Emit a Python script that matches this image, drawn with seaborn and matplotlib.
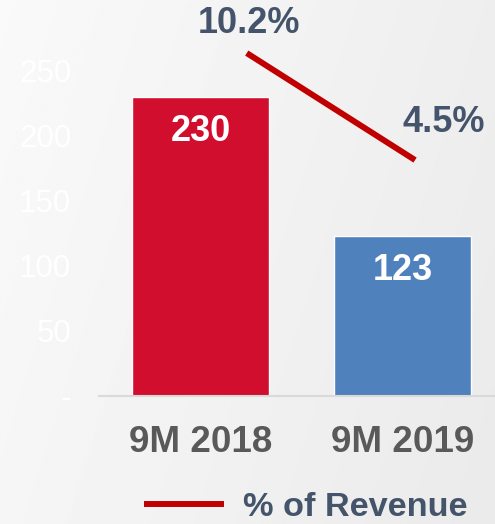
import numpy as np
import matplotlib
matplotlib.use('Agg')
import matplotlib.pyplot as plt
import seaborn as sns

# 數據
periods = ['9M 2018', '9M 2019']
amounts = [230, 123]
pct_revenue = [10.2, 4.5]
pct_labels = ['10.2%', '4.5%']
y_ticks = [0, 50, 100, 150, 200, 250]
y_tick_labels = ['-', '50', '100', '150', '200', '250']

sns.set_style('white')
plt.rcParams['font.family'] = ['Liberation Sans', 'DejaVu Sans']

fig = plt.figure(figsize=(4.95, 5.24), dpi=100)

# 背景漸層
bg = fig.add_axes([0, 0, 1, 1], zorder=-10)
gx, gy = np.meshgrid(np.linspace(0, 1, 200), np.linspace(0, 1, 200))
grad = 0.978 - 0.06 * (0.75 * gx + 0.25 * gy)
bg.imshow(grad, cmap='gray', vmin=0, vmax=1, aspect='auto', extent=(0, 1, 0, 1))
bg.axis('off')

rect = [0.2, 0.2443, 0.8, 0.7443]
ax = fig.add_axes(rect)
ax.patch.set_alpha(0)

# 柱狀圖
sns.barplot(x=periods, y=amounts, hue=periods, palette=['#D20E2E', '#4F81BD'],
            width=0.68, legend=False, ax=ax, saturation=1)
ax.set_xlim(-0.502, 1.458)
ax.set_ylim(0, 300)
ax.set_yticks(y_ticks)
ax.set_yticklabels(y_tick_labels, color='white', fontsize=22.5)
ax.tick_params(axis='y', length=0, pad=20)
ax.tick_params(axis='x', length=0, pad=21, labelsize=26.5, labelcolor='#595959')
for lab in ax.get_xticklabels():
    lab.set_fontweight('bold')
ax.set_xlabel('')
ax.set_ylabel('')
for s in ['top', 'right', 'left']:
    ax.spines[s].set_visible(False)
ax.spines['bottom'].set_color('#D9D9D9')
ax.spines['bottom'].set_linewidth(1.5)

for i, v in enumerate(amounts):
    ax.annotate(str(v), (i, v), xytext=(0, -24.5), textcoords='offset points',
                ha='center', va='center', color='white', fontsize=26, fontweight='bold')

# 折線（次座標軸）
ax2 = fig.add_axes(rect)
ax2.patch.set_alpha(0)
sns.lineplot(x=periods, y=pct_revenue, color='#C00000', linewidth=4.3,
             label='% of Revenue', ax=ax2, legend=False)
for ln in ax2.get_lines():
    ln.set_solid_capstyle('butt')
ax2.set_xlim(-0.878, 1.475)
ax2.set_ylim(-8.07, 12.71)
ax2.axis('off')

offsets = [(1.3, 21.6), (21, 27)]
for i, (v, t) in enumerate(zip(pct_revenue, pct_labels)):
    ax2.annotate(t, (i, v), xytext=offsets[i], textcoords='offset points',
                 ha='center', va='center', color='#44546A', fontsize=26, fontweight='bold')

# 圖例
handles, labels = ax2.get_legend_handles_labels()
leg = fig.legend(handles, labels, loc='center', bbox_to_anchor=(0.617, 0.032),
                 frameon=False, handlelength=2.33, handletextpad=0.55,
                 prop={'size': 24.7, 'weight': 'bold'})
for t in leg.get_texts():
    t.set_color('#44546A')

plt.savefig('out.png', dpi=100)
